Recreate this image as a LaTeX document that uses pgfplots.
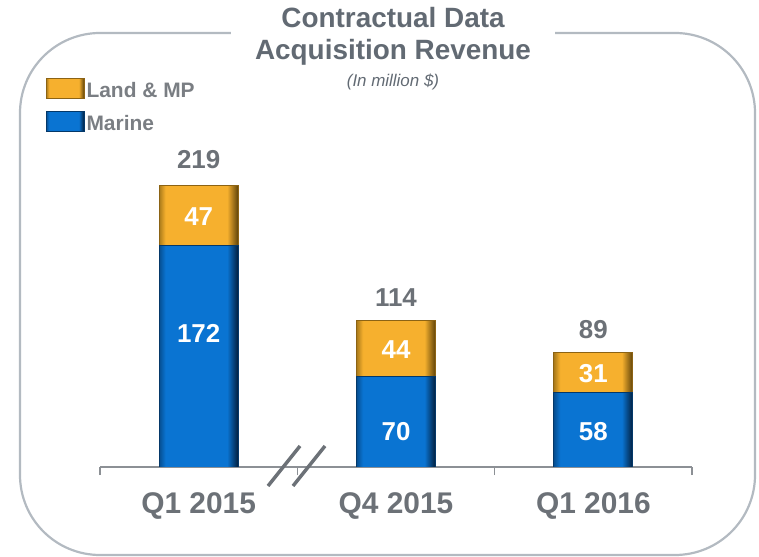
\documentclass[border=0pt]{standalone}
\usepackage{pgfplots}
\pgfplotsset{compat=1.18}
\usepackage{fontspec}
\setmainfont{Liberation Sans}
\definecolor{omain}{HTML}{F6B02E}
\definecolor{oleft}{HTML}{A97A1A}
\definecolor{odark}{HTML}{5E4209}
\definecolor{bmain}{HTML}{0A74D2}
\definecolor{bleft}{HTML}{064E90}
\definecolor{bdark}{HTML}{021E3C}
\definecolor{titlegray}{HTML}{626A73}
\definecolor{lblgray}{HTML}{6C7177}
\definecolor{leggray}{HTML}{7A7E83}
\definecolor{bordergray}{HTML}{B3BAC1}
\definecolor{axisgray}{HTML}{8C9095}
\pgfdeclarehorizontalshading{obevel}{100bp}{color(0bp)=(oleft); color(25bp)=(oleft); color(29bp)=(omain); color(68bp)=(omain); color(75bp)=(odark); color(100bp)=(odark)}
\pgfdeclarehorizontalshading{bbevel}{100bp}{color(0bp)=(bleft); color(25bp)=(bleft); color(29bp)=(bmain); color(68bp)=(bmain); color(75bp)=(bdark); color(100bp)=(bdark)}
\pgfplotsset{
  base/.style={at={(100bp,90bp)}, anchor=south west, scale only axis,
    width=592bp, height=300bp, xmin=-0.5, xmax=2.5, ymin=0, ymax=233},
  barbase/.style={base, ybar stacked, bar width=79bp},
  marine/.style={shade, shading=bbevel, draw=bdark!70!bmain, line width=0.8bp},
  land/.style={shade, shading=obevel, draw=odark!70!omain, line width=0.8bp},
}
\begin{document}
\begin{tikzpicture}
\useasboundingbox (0,0) rectangle (759bp,557bp);
\draw[bordergray, line width=2.2bp, rounded corners=80bp] (20bp,2bp) rectangle (755bp,524bp);
\fill[white] (231bp,516bp) rectangle (555bp,532bp);
\node[align=center, font=\fontsize{28}{32}\selectfont\bfseries, text=titlegray] at (393bp,521bp) {Contractual Data\\Acquisition Revenue};
\node[font=\fontsize{17}{20}\selectfont\itshape, text=titlegray] at (393bp,475bp) {(In million \$)};
\begin{axis}[barbase,
  axis y line=none, axis x line*=bottom,
  x axis line style={axisgray, line width=1.3bp},
  ytick=\empty,
  xtick={0,1,2}, xticklabels={Q1 2015,Q4 2015,Q1 2016},
  xtick style={draw=none},
  xticklabel style={font=\fontsize{30}{32}\selectfont\bfseries, text=lblgray, anchor=center, yshift=-39bp},
  extra x ticks={-0.5,0.5,1.5,2.5}, extra x tick labels={},
  extra x tick style={xtick style={draw=axisgray, line width=1.3bp}, tick align=outside, major tick length=8bp},
  legend style={at={(-0.097,1.303)}, anchor=north west, draw=none, fill=none,
    font=\fontsize{21}{24}\selectfont\bfseries, text=leggray, row sep=10bp},
  legend cell align=left, reverse legend,
  legend image code/.code={\path[#1] (0bp,-8bp) rectangle (38bp,12bp);},
]
\addplot[marine] coordinates {(0,172)};
\addplot[land] coordinates {(0,47)};
\legend{Marine, Land \& MP}
\end{axis}
\begin{axis}[barbase, hide axis]
\addplot[marine] coordinates {(1,70)};
\addplot[land] coordinates {(1,44)};
\end{axis}
\begin{axis}[barbase, hide axis]
\addplot[marine] coordinates {(2,58)};
\addplot[land] coordinates {(2,31)};
\end{axis}
\begin{axis}[base, hide axis, clip=false]
\addplot[only marks, mark=none, nodes near coords, point meta=explicit symbolic,
  nodes near coords style={anchor=center, font=\fontsize{26}{28}\selectfont\bfseries, text=white}]
  table[meta=l] {
x y l
0 194.2 47
0 104.1 172
1 90.9 44
1 27.2 70
2 72.2 31
2 27.2 58
};
\addplot[only marks, mark=none, nodes near coords, point meta=explicit symbolic,
  nodes near coords style={anchor=center, font=\fontsize{26}{28}\selectfont\bfseries, text=lblgray}]
  table[meta=l] {
x y l
0 238.4 219
1 131.3 114
2 106.4 89
};
\end{axis}
\draw[lblgray, line width=3.5bp] (268bp,71bp) -- (300bp,111bp);
\draw[lblgray, line width=3.5bp] (293bp,71bp) -- (325bp,111bp);
\end{tikzpicture}
\end{document}
